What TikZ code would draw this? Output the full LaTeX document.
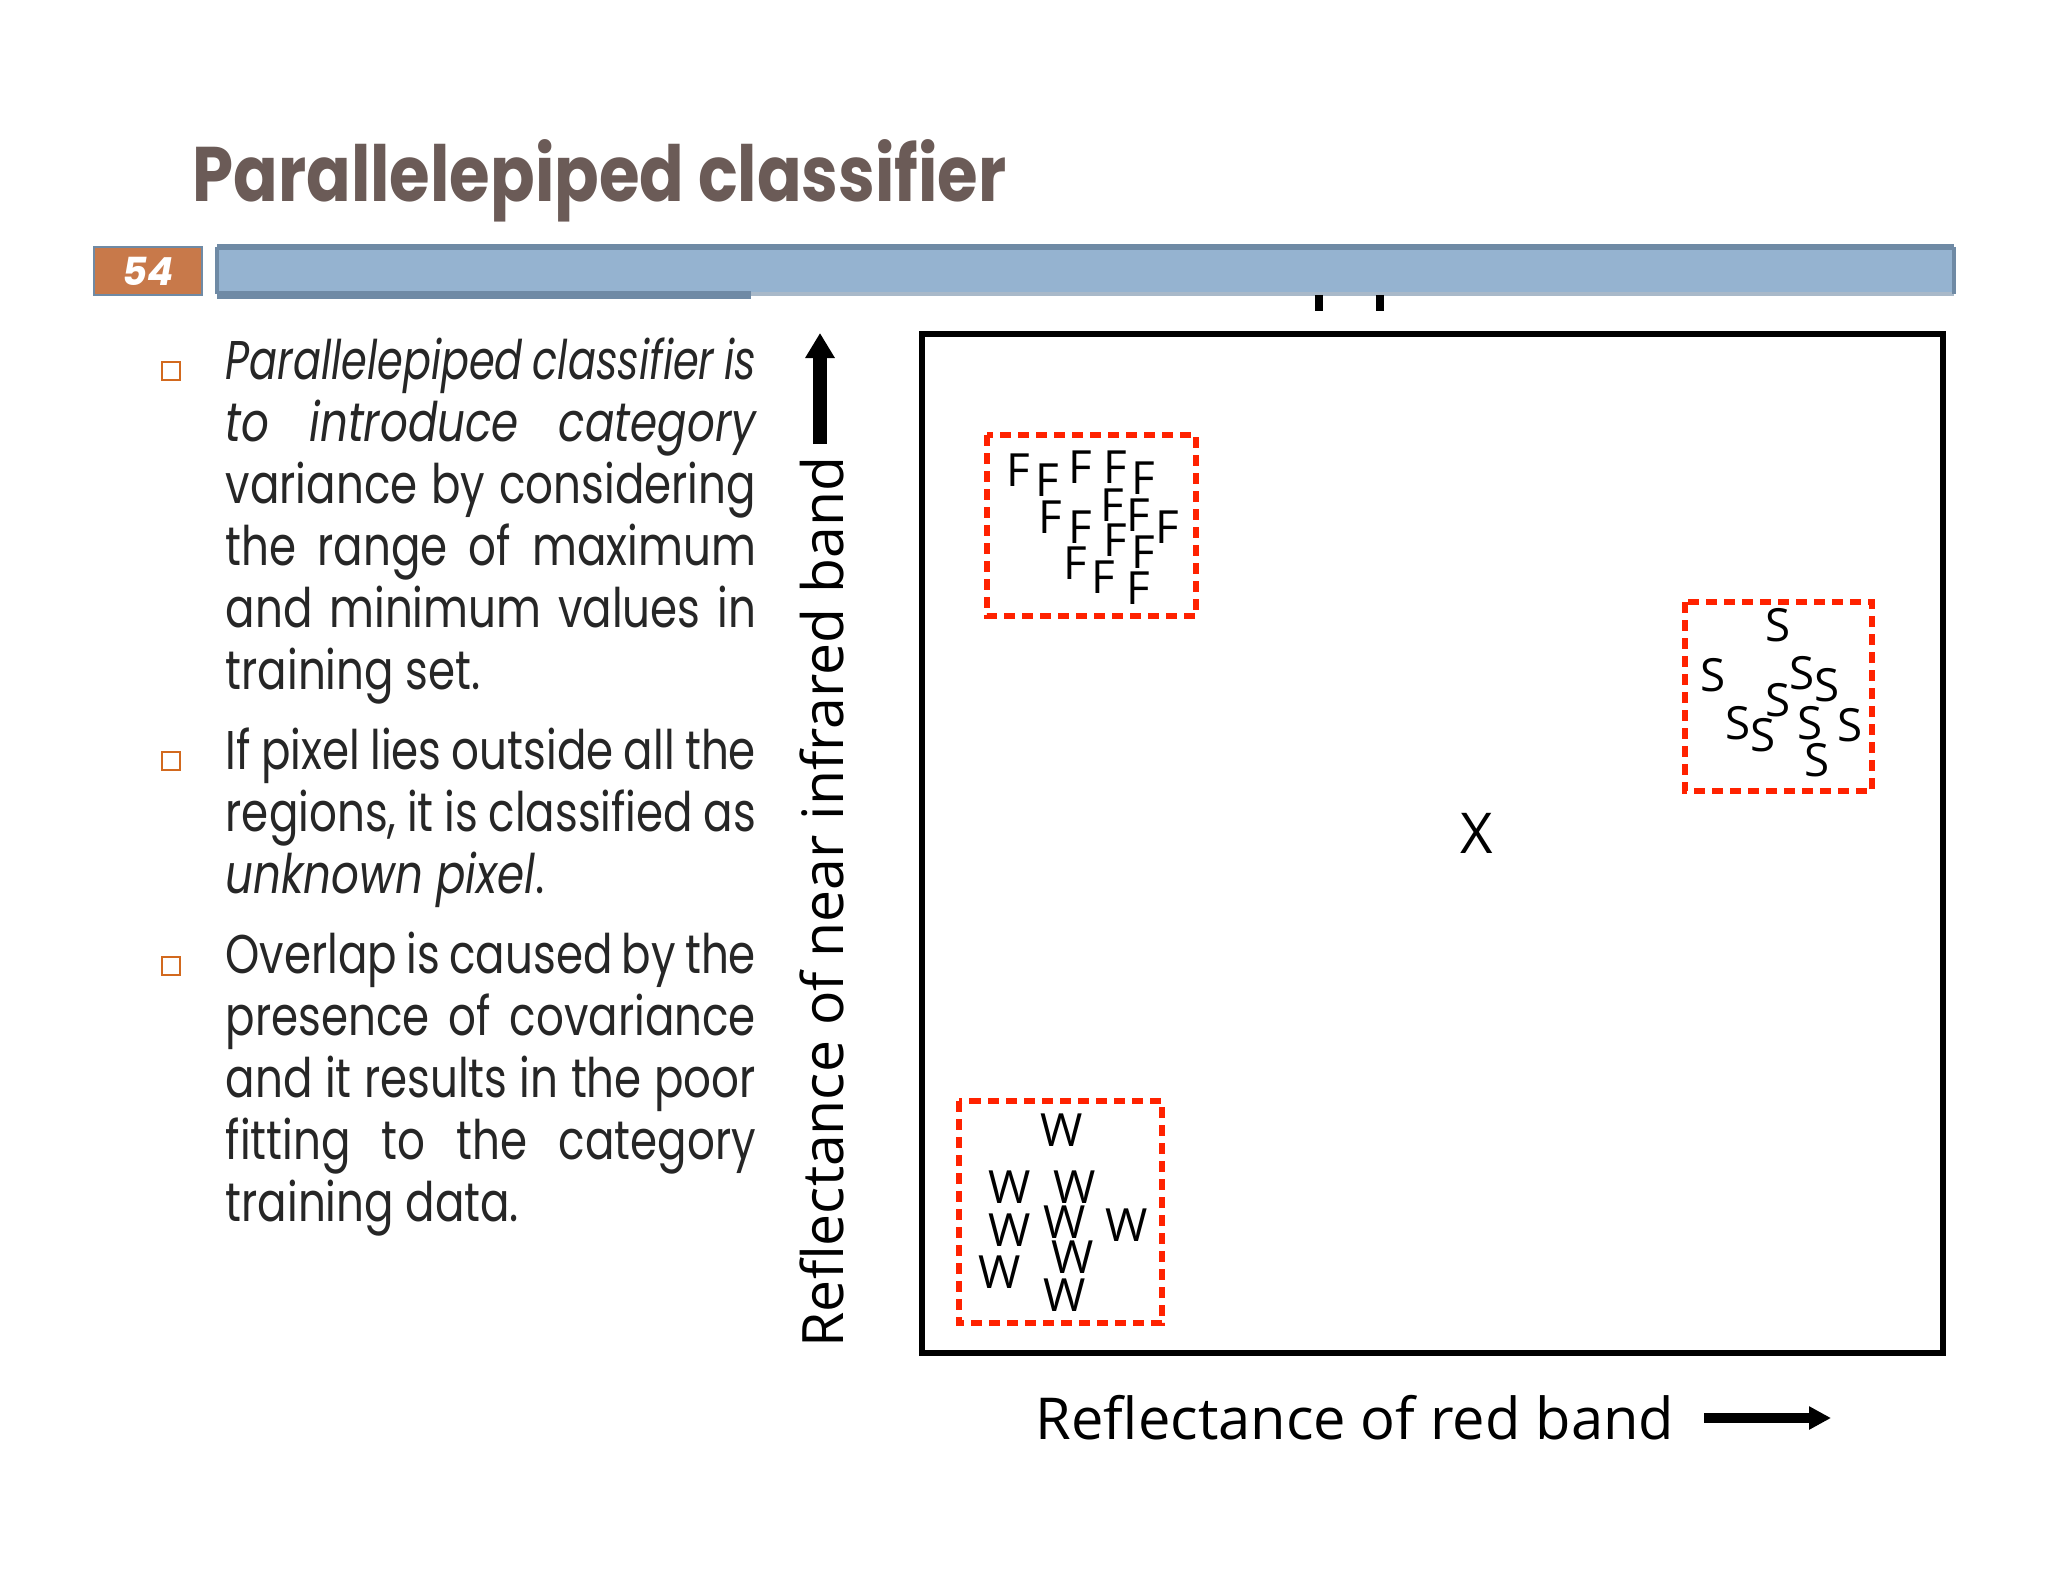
\documentclass[tikz,border=0pt]{standalone}
\usepackage{fontspec}
\setmainfont{Poppins}
\newfontfamily\bodyf[FakeStretch=0.8]{Poppins}
\newfontfamily\bodyi[FakeStretch=0.76]{Poppins}
\newfontfamily\titlef[FakeStretch=0.85]{Poppins}
\newfontfamily\gill{Open Sans}
\usetikzlibrary{arrows.meta}
\definecolor{titlec}{HTML}{6B5B57}
\definecolor{barfill}{HTML}{95B3D0}
\definecolor{barline}{HTML}{6F8AA5}
\definecolor{numfill}{HTML}{C8794A}
\definecolor{redd}{HTML}{FF2200}
\definecolor{bulc}{HTML}{D2691E}
\tikzset{
  clsbox/.style={draw=redd,line width=0.06cm,dash pattern=on 0.11cm off 0.07cm},
  pt/.style={inner sep=0pt,font=\gill\fontsize{13}{13}\selectfont},
  ln/.style={anchor=base west,inner sep=0pt,font=\bodyf\fontsize{15.5}{15.5}\selectfont,text=black!85},
  bul/.style={draw=bulc,line width=0.5pt,minimum size=0.18cm,inner sep=0pt}
}
\newcommand{\jl}[1]{\makebox[5.3cm][s]{#1}}
\begin{document}
\begin{tikzpicture}[x=0.01cm,y=-0.01cm]
\useasboundingbox (0,0) rectangle (2048,1582);
\fill[white] (0,0) rectangle (2048,1582);
% title
\node[anchor=base west,inner sep=0pt,text=titlec,font=\titlef\bfseries\fontsize{22}{22}\selectfont] (title) at (192,202) {Parallelepiped classifier};
% header bar
\fill[barfill] (217,247) rectangle (1954,294);
\draw[barline,line width=1.5pt] (217,247) -- (1954,247);
\draw[barline!60,line width=1pt] (217,294) -- (1954,294);
\draw[barline,line width=2pt] (217,295) -- (751,295);
\draw[barline,line width=1pt] (217,247) -- (217,294) (1954,247) -- (1954,294);
\node[fill=numfill,draw=barline,line width=0.8pt,minimum width=1.08cm,minimum height=0.48cm,inner sep=0pt,text=white,font=\bfseries\itshape\fontsize{11}{11}\selectfont] (num) at (148,271) {54};
\draw[line width=2.5pt] (1319,295) -- (1319,311) (1380,295) -- (1380,311);
% bullets
\node[bul] (b1) at (171,371) {};
\node[bul] (b2) at (171,761) {};
\node[bul] (b3) at (171,966) {};
\node[ln] at (225,379) {\jl{\bodyi\itshape Parallelepiped classifier is}};
\node[ln] at (225,441) {\jl{\itshape to introduce category}};
\node[ln] at (225,503) {\jl{variance by considering}};
\node[ln] at (225,565) {\jl{the range of maximum}};
\node[ln] at (225,627) {\jl{and minimum values in}};
\node[ln] at (225,689) {training set.};
\node[ln] at (225,769) {\jl{If pixel lies outside all the}};
\node[ln] at (225,831) {\jl{regions, it is classified as}};
\node[ln] at (225,893) {\itshape unknown pixel\upshape .};
\node[ln] at (225,973) {\jl{Overlap is caused by the}};
\node[ln] at (225,1035) {\jl{presence of covariance}};
\node[ln] at (225,1097) {\jl{and it results in the poor}};
\node[ln] at (225,1159) {\jl{fitting to the category}};
\node[ln] at (225,1221) {training data.};
% axes labels
\node[rotate=90,inner sep=0pt,font=\gill] (ylab) at (822,902) {\resizebox{8.9cm}{!}{Reflectance of near infrared band}};
\coordinate (ya) at (820,444);
\coordinate (yb) at (820,333);
\draw[line width=4pt,-{Triangle[length=0.25cm,width=0.28cm]}] (ya) -- (yb);
\node[inner sep=0pt,font=\gill] (xlab) at (1355,1418) {\resizebox{6.38cm}{!}{Reflectance of red band}};
\coordinate (xa) at (1704,1418);
\coordinate (xb) at (1831,1418);
\draw[line width=3pt,-{Triangle[length=0.22cm,width=0.22cm]}] (xa) -- (xb);
% plot frame
\draw[line width=1.8pt] (922,334) rectangle (1943,1353);
% class boxes
\draw[clsbox] (987,435) rectangle (1196,616);
\draw[clsbox] (1685,602) rectangle (1872,791);
\draw[clsbox] (959,1101) rectangle (1162,1323);
\foreach \p in {(1018,470),(1047,480),(1080,467),(1115,467),(1143,478),(1050,517),(1112,505),(1138,515),(1080,527),(1115,540),(1167,527),(1143,552),(1075,563),(1103,577),(1138,588)}
  \node[pt] at \p {F};
\foreach \p in {(1778,625),(1713,675),(1802,673),(1827,685),(1778,700),(1738,723),(1763,735),(1810,723),(1850,725),(1817,760)}
  \node[pt] at \p {S};
\foreach \p in {(1062,1130),(1010,1187),(1075,1187),(1010,1230),(1065,1222),(1127,1225),(1000,1272),(1073,1257),(1065,1295)}
  \node[pt] at \p {W};
\node[inner sep=0pt,font=\gill\fontsize{16}{16}\selectfont] (xpix) at (1477,833) {X};
\end{tikzpicture}
\end{document}
